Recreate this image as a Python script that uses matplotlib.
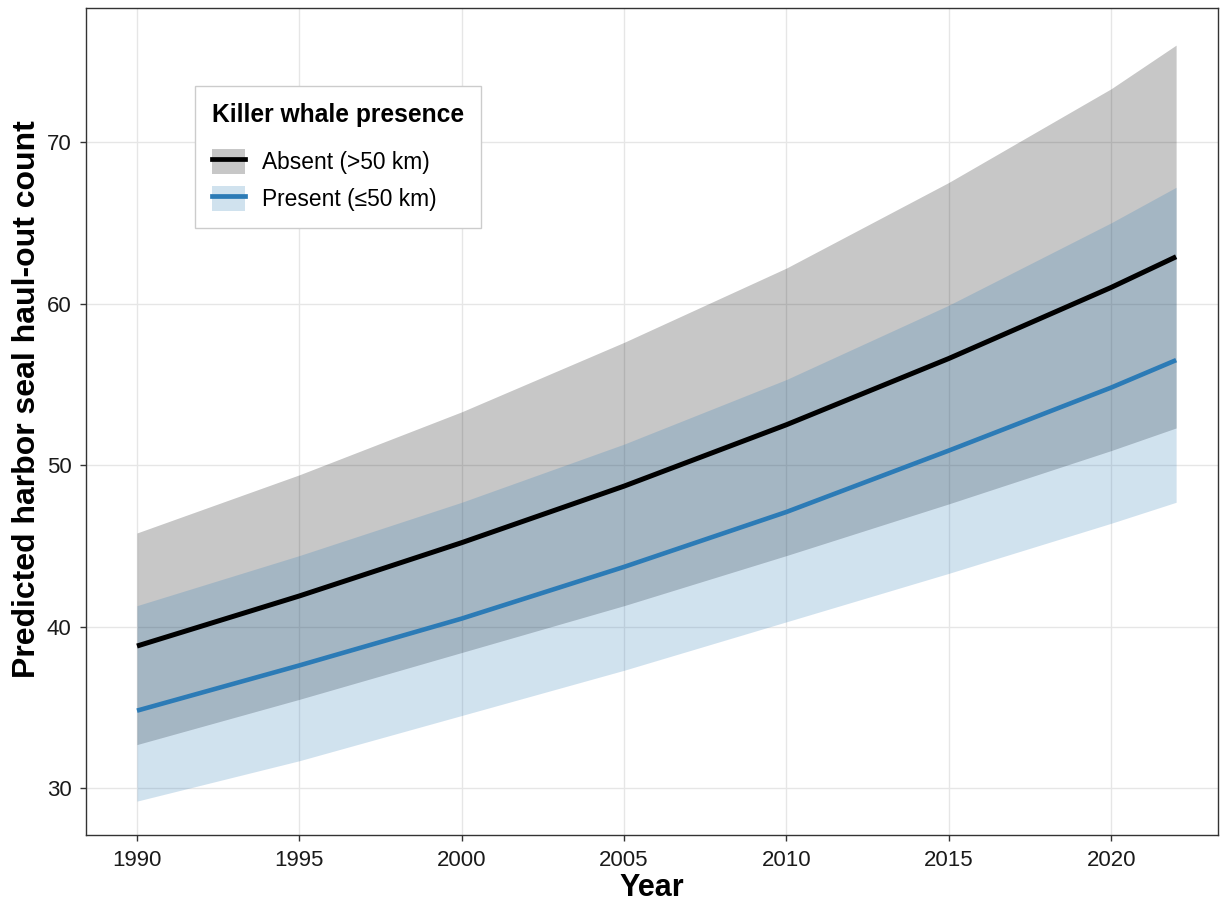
import numpy as np
import matplotlib
matplotlib.use("Agg")
import matplotlib.pyplot as plt
from matplotlib.patches import Patch
from matplotlib.lines import Line2D

plt.rcParams['font.family'] = ['Liberation Sans', 'DejaVu Sans']

# Predicted haul-out counts with 95% intervals
years = [1990, 1995, 2000, 2005, 2010, 2015, 2020, 2022]
absent_fit = [38.8, 41.9, 45.2, 48.7, 52.5, 56.6, 61.0, 62.9]
absent_lo = [32.7, 35.5, 38.4, 41.3, 44.4, 47.6, 50.9, 52.3]
absent_hi = [45.8, 49.4, 53.3, 57.6, 62.2, 67.5, 73.3, 76.0]
present_fit = [34.8, 37.6, 40.5, 43.7, 47.1, 50.9, 54.8, 56.5]
present_lo = [29.2, 31.7, 34.5, 37.3, 40.3, 43.3, 46.4, 47.7]
present_hi = [41.3, 44.4, 47.7, 51.3, 55.3, 59.9, 65.0, 67.2]

labels = ['Absent (>50 km)', 'Present (\u226450 km)']
line_colors = ['black', '#2c7bb6']
fill_colors = ['black', '#2c7bb6']
fill_alpha = 0.22

fig = plt.figure(figsize=(12.25, 9.05), dpi=100)
ax = fig.add_axes([0.0702, 0.0773, 0.9241, 0.9139])

# ribbons first, then the fitted lines on top
ax.fill_between(years, absent_lo, absent_hi, color=fill_colors[0], alpha=fill_alpha, lw=0)
ax.fill_between(years, present_lo, present_hi, color=fill_colors[1], alpha=fill_alpha, lw=0)
ax.plot(years, absent_fit, color=line_colors[0], lw=3.6, solid_capstyle='butt')
ax.plot(years, present_fit, color=line_colors[1], lw=3.3, solid_capstyle='butt')

ax.set_xlim(1988.43, 2023.29)
ax.set_ylim(27.1, 78.3)
ax.set_xticks(np.arange(1990, 2021, 5))
ax.set_yticks([30, 40, 50, 60, 70])

# theme_bw look
ax.grid(True, color='#e6e6e6', lw=1.0)
ax.set_axisbelow(True)
for s in ax.spines.values():
    s.set_color('#333333')
    s.set_linewidth(1.0)
ax.tick_params(axis='both', length=4.5, width=1, color='#333333',
               labelsize=16, labelcolor='#1a1a1a', pad=6)

ax.set_xlabel('Year', fontsize=22, fontweight='bold', labelpad=2)
ax.set_ylabel('Predicted harbor seal haul-out count', fontsize=23,
              fontweight='bold')
ax.yaxis.set_label_coords(-0.039, 0.527)

handles = [
    (Patch(facecolor=fill_colors[i], alpha=fill_alpha, lw=0),
     Line2D([], [], color=line_colors[i], lw=3.4))
    for i in range(2)
]
leg = ax.legend(handles, labels, title='Killer whale presence',
                loc='upper left', bbox_to_anchor=(0.0963, 0.9057),
                borderaxespad=0,
                fontsize=16.4, title_fontproperties={'weight': 'bold', 'size': 17.7},
                frameon=True, fancybox=False, edgecolor='#cccccc',
                framealpha=1, handlelength=1.45, handleheight=1.35,
                handletextpad=0.72, labelspacing=0.5, borderpad=0.75,
                alignment='left')
leg.get_frame().set_linewidth(1.0)
leg._legend_box.sep = 15.5

fig.savefig('out.png', dpi=100)
